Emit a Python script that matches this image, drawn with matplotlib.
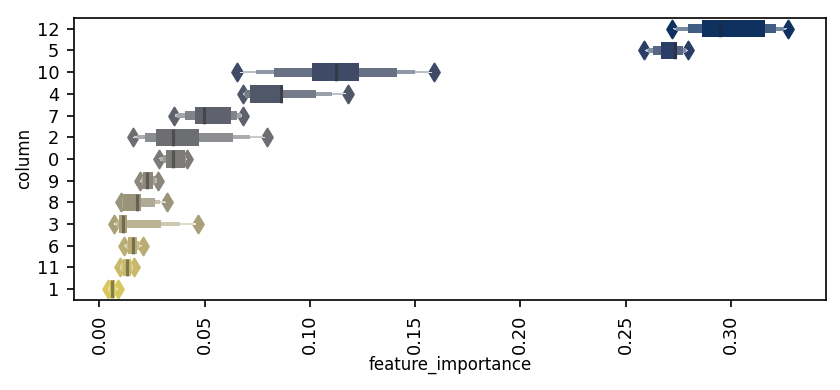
import numpy as np
import matplotlib
matplotlib.use("Agg")
import matplotlib.pyplot as plt
import matplotlib.colors as mcolors
from matplotlib.patches import Rectangle
from matplotlib.collections import PatchCollection
import seaborn as sns

# columns ordered by median feature importance (top to bottom)
columns = ["12", "5", "10", "4", "7", "2", "0", "9", "8", "3", "6", "11", "1"]
medians = [0.2949, 0.2737, 0.1125, 0.0865, 0.0498, 0.0351, 0.0351,
           0.0224, 0.0181, 0.0113, 0.0158, 0.0129, 0.0058]
# letter values, innermost box first
lv_low = [
    [0.2865, 0.2797, 0.2742, 0.2730, 0.2726],
    [0.2667, 0.2631, 0.2607, 0.2595, 0.2590],
    [0.1011, 0.0829, 0.0743, 0.0683, 0.0668],
    [0.0715, 0.0691, 0.0686, 0.0683, 0.0682],
    [0.0454, 0.0406, 0.0367, 0.0360, 0.0357],
    [0.0268, 0.0216, 0.0177, 0.0165, 0.0161],
    [0.0316, 0.0300, 0.0290, 0.0286, 0.0285],
    [0.0207, 0.0201, 0.0196, 0.0194, 0.0193],
    [0.0111, 0.0109, 0.0107, 0.0106, 0.0106],
    [0.0093, 0.0084, 0.0078, 0.0074, 0.0071],
    [0.0137, 0.0130, 0.0124, 0.0120, 0.0118],
    [0.0110, 0.0104, 0.0100, 0.0098, 0.0098],
    [0.0050, 0.0046, 0.0043, 0.0041, 0.0041],
]
lv_high = [
    [0.3162, 0.3214, 0.3252, 0.3262, 0.3267],
    [0.2743, 0.2773, 0.2789, 0.2793, 0.2795],
    [0.1233, 0.1412, 0.1499, 0.1562, 0.1578],
    [0.0873, 0.1029, 0.1103, 0.1158, 0.1172],
    [0.0623, 0.0655, 0.0675, 0.0678, 0.0679],
    [0.0473, 0.0636, 0.0715, 0.0778, 0.0788],
    [0.0405, 0.0410, 0.0413, 0.0414, 0.0415],
    [0.0255, 0.0265, 0.0272, 0.0275, 0.0276],
    [0.0200, 0.0264, 0.0290, 0.0310, 0.0316],
    [0.0129, 0.0295, 0.0382, 0.0446, 0.0460],
    [0.0180, 0.0189, 0.0195, 0.0200, 0.0203],
    [0.0150, 0.0156, 0.0160, 0.0162, 0.0162],
    [0.0075, 0.0080, 0.0085, 0.0088, 0.0089],
]
outliers_low = [0.2723, 0.2587, 0.0655, 0.0680, 0.0354, 0.0158, 0.0283,
                0.0192, 0.0105, 0.0068, 0.0116, 0.0097, 0.0040]
outliers_high = [0.3272, 0.2797, 0.1590, 0.1182, 0.0680, 0.0794, 0.0416,
                 0.0277, 0.0322, 0.0470, 0.0205, 0.0163, 0.0090]

plt.rcParams["font.size"] = 8
palette = sns.color_palette("cividis", len(columns), desat=0.75)

fig, ax = plt.subplots(figsize=(5.6, 2.6), dpi=150)
fig.subplots_adjust(left=0.088, right=0.983, top=0.954, bottom=0.231)

width = 0.8
for i, col in enumerate(columns):
    color = palette[i]
    k = len(lv_low[i])
    # outliers first, boxes drawn on top of them
    ax.scatter([outliers_low[i], outliers_high[i]], [i, i], marker="d",
               color=color, zorder=1)
    ax.plot([medians[i], medians[i]], [i - width / 2, i + width / 2],
            c=".15", alpha=0.45, solid_capstyle="butt", linewidth=1.5)
    boxes = []
    for lvl in range(k - 1, -1, -1):  # outermost first
        w = width * 0.5 ** lvl
        lo, hi = lv_low[i][lvl], lv_high[i][lvl]
        boxes.append(Rectangle((lo, i - w / 2), hi - lo, w))
    white = mcolors.LinearSegmentedColormap.from_list("w", [color, (1, 1, 1)])
    cmap = mcolors.LinearSegmentedColormap.from_list("c", [color, white(.85)])
    pc = PatchCollection(boxes, cmap=cmap, linewidth=0)
    pc.set_array(np.linspace(1, 0, len(boxes)))
    pc.set_clim(0, 1)
    ax.add_collection(pc)

ax.set_yticks(range(len(columns)))
ax.set_yticklabels(columns, fontsize=8.5)
ax.set_ylim(len(columns) - 0.5, -0.5)
ax.set_xlim(-0.0121, 0.3451)
ax.set_xticks([0.0, 0.05, 0.10, 0.15, 0.20, 0.25, 0.30])
ax.set_xticklabels(["0.00", "0.05", "0.10", "0.15", "0.20", "0.25", "0.30"],
                   rotation=90, fontsize=8.5)
ax.set_xlabel("feature_importance", labelpad=1)
ax.set_ylabel("column", labelpad=1.5)

fig.savefig("out.png", dpi=150)
